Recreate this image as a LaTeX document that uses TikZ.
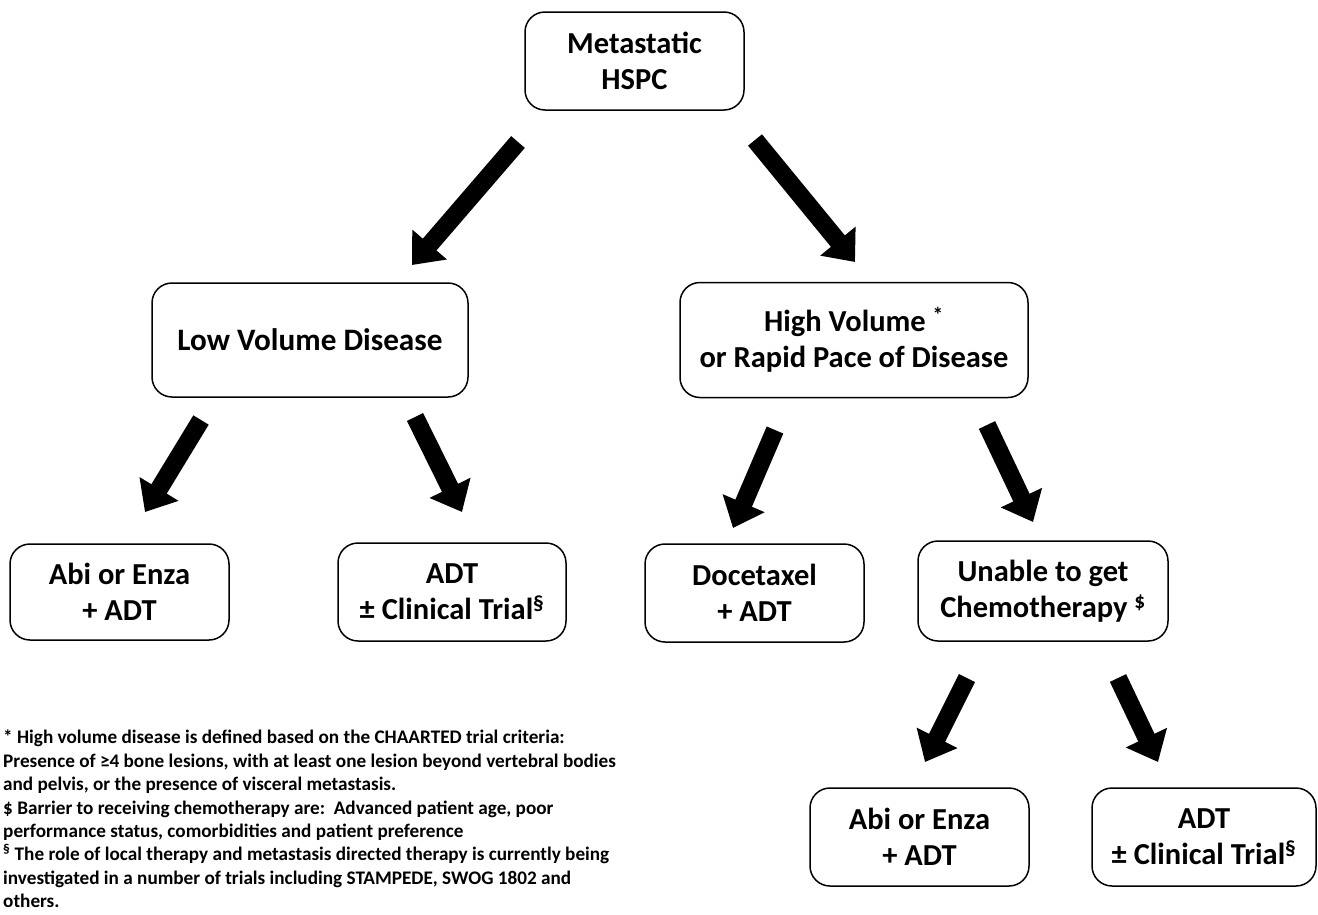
\documentclass[tikz,border=0pt]{standalone}
\usepackage{fontspec}
\setmainfont{Carlito}
\usetikzlibrary{arrows.meta}
\begin{document}
\begin{tikzpicture}[x=1pt,y=-1pt,
  box/.style={draw, line width=1.5pt, rounded corners=20pt, align=center,
    font=\fontsize{30.5}{36}\selectfont\bfseries, inner sep=0pt},
  bigarrow/.style={line width=18pt, -{Triangle[width=44pt,length=27pt]}},
  note/.style={anchor=north west, align=left, inner sep=0pt,
    font=\fontsize{19.2}{23.4}\selectfont\bfseries}]
\useasboundingbox (0,0) rectangle (1318,914);
% boxes
\node[box, minimum width=219pt, minimum height=98pt] (top) at (634.5,61) {Metastatic\\HSPC};
\node[box, minimum width=316pt, minimum height=114pt, font=\fontsize{31.2}{38}\selectfont\bfseries] (low) at (310,340) {Low Volume Disease};
\node[box, minimum width=348pt, minimum height=115pt] (high) at (854,340) {High Volume \textsuperscript{*}\\or Rapid Pace of Disease};
\node[box, minimum width=219pt, minimum height=96pt] (abiA) at (119.5,592) {Abi or Enza\\+ ADT};
\node[box, minimum width=228pt, minimum height=98pt] (adtA) at (452,592) {ADT\\± Clinical Trial\textsuperscript{§}};
\node[box, minimum width=219pt, minimum height=98pt] (doc) at (754.5,593) {Docetaxel\\+ ADT};
\node[box, minimum width=250pt, minimum height=100pt] (unable) at (1043,591) {Unable to get\\Chemotherapy \textsuperscript{\$}};
\node[box, minimum width=219pt, minimum height=98pt] (abiB) at (919.5,837) {Abi or Enza\\+ ADT};
\node[box, minimum width=224pt, minimum height=98pt] (adtB) at (1204,837) {ADT\\± Clinical Trial\textsuperscript{§}};
% arrow end points
\coordinate (a1s) at (518,142); \coordinate (a1e) at (412,265);
\coordinate (a2s) at (755,140); \coordinate (a2e) at (855,262);
\coordinate (a3s) at (201,420); \coordinate (a3e) at (145,512);
\coordinate (a4s) at (415,417); \coordinate (a4e) at (462,512);
\coordinate (a5s) at (775,430); \coordinate (a5e) at (733,528);
\coordinate (a6s) at (987,425); \coordinate (a6e) at (1033,522);
\coordinate (a7s) at (967,678); \coordinate (a7e) at (925,762);
\coordinate (a8s) at (1118,678); \coordinate (a8e) at (1158,762);
\foreach \i in {1,...,8} { \draw[bigarrow] (a\i s) -- (a\i e); }
% footnotes
\node[note] (notes) at (3,730) {* High volume disease is defined based on the CHAARTED trial criteria:\\
Presence of ≥4 bone lesions, with at least one lesion beyond vertebral bodies\\
and pelvis, or the presence of visceral metastasis.\\
\$ Barrier to receiving chemotherapy are:\ \ Advanced patient age, poor\\
performance status, comorbidities and patient preference\\
\textsuperscript{§} The role of local therapy and metastasis directed therapy is currently being\\
investigated in a number of trials including STAMPEDE, SWOG 1802 and\\
others.};
\end{tikzpicture}
\end{document}
